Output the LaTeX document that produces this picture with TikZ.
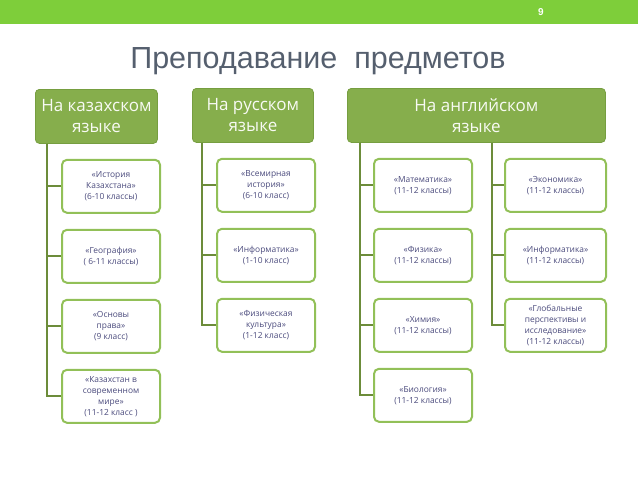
\documentclass[tikz,border=0pt]{standalone}
\usepackage{fontspec}
\setmainfont{Liberation Sans}
\newfontfamily\boxfont{Open Sans}
\usetikzlibrary{positioning}

\definecolor{barGreen}{RGB}{126,206,58}
\definecolor{headGreen}{RGB}{134,174,76}
\definecolor{headEdge}{RGB}{118,158,64}
\definecolor{itemEdge}{RGB}{146,192,88}
\definecolor{trunkGreen}{RGB}{108,140,58}
\definecolor{itemText}{RGB}{75,75,125}
\definecolor{titleGray}{RGB}{85,95,110}

\begin{document}
\begin{tikzpicture}[
  x=1pt, y=-1pt,
  node distance=15pt and 25pt,
  head/.style={draw=headEdge, fill=headGreen, rounded corners=4pt, line width=0.8pt,
               minimum height=54pt, align=center, text=white!94!headGreen,
               font=\boxfont\fontsize{17}{21}\selectfont},
  item/.style={draw=itemEdge, fill=white, rounded corners=5pt, line width=2pt,
               minimum width=98pt, minimum height=53pt, align=center, text=itemText,
               font=\boxfont\fontsize{8.4}{11}\selectfont},
  link/.style={draw=trunkGreen, line width=2pt}
]
\useasboundingbox (0,0) rectangle (638,479);

% Slide frame
\fill[barGreen] (0,0) rectangle (638,24);
\node[text=white, font=\bfseries\fontsize{10}{12}\selectfont] (pagenum) at (541,12) {9};
\node[text=titleGray, font=\fontsize{30.5}{34}\selectfont] (title) at (318,61)
  {Преподавание\ \ предметов};

% Headers
\node[head, minimum width=122pt, anchor=north west] (kaz) at (35,89) {На казахском\\языке};
\node[head, minimum width=121pt, anchor=north west] (rus) at (192,88) {На русском\\языке};
\node[head, minimum width=258pt, anchor=north west] (eng) at (347,88) {На английском\\языке};

% Kazakh column
\node[item, below right=15pt and 26pt of kaz.south west] (k1) {«История\\Казахстана»\\(6-10 классы)};
\node[item, below=of k1] (k2) {«География»\\( 6-11 классы)};
\node[item, below=of k2] (k3) {«Основы\\права»\\(9 класс)};
\node[item, below=of k3] (k4) {«Казахстан в\\современном\\мире»\\(11-12 класс )};

% Russian column
\node[item, below right=15pt and 24pt of rus.south west] (r1) {«Всемирная\\история»\\(6-10 класс)};
\node[item, below=of r1] (r2) {«Информатика»\\(1-10 класс)};
\node[item, below=of r2] (r3) {«Физическая\\культура»\\(1-12 класс)};

% English columns
\node[item, below right=15pt and 26pt of eng.south west] (e1) {«Математика»\\(11-12 классы)};
\node[item, below=of e1] (e2) {«Физика»\\(11-12 классы)};
\node[item, below=of e2] (e3) {«Химия»\\(11-12 классы)};
\node[item, below=of e3] (e4) {«Биология»\\(11-12 классы)};
\node[item, minimum width=101pt, below right=15pt and 157pt of eng.south west] (f1) {«Экономика»\\(11-12 классы)};
\node[item, minimum width=101pt, below=of f1] (f2) {«Информатика»\\(11-12 классы)};
\node[item, minimum width=101pt, below=of f2] (f3) {«Глобальные\\перспективы и\\исследование»\\(11-12 классы)};

% Trunks
\coordinate (kt) at ([xshift=12pt]kaz.south west);
\coordinate (rt) at ([xshift=10pt]rus.south west);
\coordinate (et) at ([xshift=13pt]eng.south west);
\coordinate (ft) at ([xshift=145pt]eng.south west);
\foreach \i in {1,...,4} \draw[link] (kt) |- (k\i.west);
\foreach \i in {1,...,3} \draw[link] (rt) |- (r\i.west);
\foreach \i in {1,...,4} \draw[link] (et) |- (e\i.west);
\foreach \i in {1,...,3} \draw[link] (ft) |- (f\i.west);
\end{tikzpicture}
\end{document}
